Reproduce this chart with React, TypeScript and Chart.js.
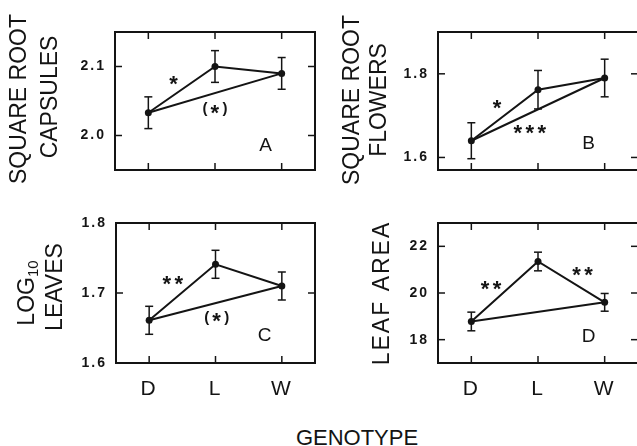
import React, { useEffect, useRef } from 'react';
import { Chart, registerables } from 'chart.js';

Chart.register(...registerables);

// ---------- data ----------
const genotypes = ['D', 'L', 'W'];
const genotypePositions = [0, 1, 2];

const capsulesMean = [2.033, 2.1, 2.09];
const capsulesErr = [0.023, 0.023, 0.023];
const capsulesTicks = [2.0, 2.1];

const flowersMean = [1.64, 1.762, 1.79];
const flowersErr = [0.043, 0.046, 0.045];
const flowersTicks = [1.6, 1.8];

const leavesMean = [1.661, 1.741, 1.71];
const leavesErr = [0.02, 0.02, 0.02];
const leavesTicks = [1.6, 1.7, 1.8];

const areaMean = [18.78, 21.35, 19.6];
const areaErr = [0.4, 0.4, 0.38];
const areaTicks = [18, 20, 22];

// significance marks (text, x in genotype units, y in data units)
const capsulesNotes = [
  { text: '*', x: 0.38, y: 2.079 },
  { text: '(*)', x: 1.0, y: 2.038 },
  { text: 'A', x: 1.76, y: 1.987 },
];
const flowersNotes = [
  { text: '*', x: 0.39, y: 1.727 },
  { text: '***', x: 0.88, y: 1.666 },
  { text: 'B', x: 1.76, y: 1.636 },
];
const leavesNotes = [
  { text: '**', x: 0.36, y: 1.718 },
  { text: '(*)', x: 1.02, y: 1.665 },
  { text: 'C', x: 1.74, y: 1.641 },
];
const areaNotes = [
  { text: '**', x: 0.3, y: 20.32 },
  { text: '**', x: 1.67, y: 20.94 },
  { text: 'D', x: 1.76, y: 18.19 },
];

const xLabel = 'GENOTYPE';

// ---------- styling / layout ----------
const INK = '#141414';
const FAMILY = '"Liberation Sans", Arial, Helvetica, sans-serif';

type Note = { text: string; x: number; y: number };
type Title = { text: string; sub?: string; x: number; y: number; spacing?: number };
type Panel = {
  mean: number[];
  err: number[];
  ticks: number[];
  min: number;
  max: number;
  decimals: number;
  notes: Note[];
  titles: Title[];
  box: { left: number; top: number; width: number; height: number };
  area: { left: number; top: number; right: number; bottom: number };
  showX: boolean;
};

const panels: Panel[] = [
  {
    mean: capsulesMean, err: capsulesErr, ticks: capsulesTicks, min: 1.95, max: 2.15, decimals: 1,
    notes: capsulesNotes,
    titles: [
      { text: 'SQUARE ROOT', x: 20, y: 99 },
      { text: 'CAPSULES', x: 48, y: 97 },
    ],
    box: { left: 0, top: 0, width: 319, height: 200 },
    area: { left: 115, top: 32, right: 316, bottom: 170 },
    showX: false,
  },
  {
    mean: flowersMean, err: flowersErr, ticks: flowersTicks, min: 1.57, max: 1.9, decimals: 1,
    notes: flowersNotes,
    titles: [
      { text: 'SQUARE ROOT', x: 32.5, y: 100 },
      { text: 'FLOWERS', x: 57.5, y: 100 },
    ],
    box: { left: 320, top: 0, width: 322, height: 200 },
    area: { left: 118, top: 32, right: 318, bottom: 170 },
    showX: false,
  },
  {
    mean: leavesMean, err: leavesErr, ticks: leavesTicks, min: 1.6, max: 1.8, decimals: 1,
    notes: leavesNotes,
    titles: [
      { text: 'LOG', sub: '10', x: 25, y: 93 },
      { text: 'LEAVES', x: 53, y: 87 },
    ],
    box: { left: 0, top: 200, width: 319, height: 210 },
    area: { left: 116, top: 23, right: 315, bottom: 163 },
    showX: true,
  },
  {
    mean: areaMean, err: areaErr, ticks: areaTicks, min: 17, max: 23, decimals: 0,
    notes: areaNotes,
    titles: [{ text: 'LEAF AREA', x: 60, y: 94, spacing: 2 }],
    box: { left: 320, top: 200, width: 322, height: 210 },
    area: { left: 118, top: 23, right: 318, bottom: 163 },
    showX: true,
  },
];

function drawCentered(
  ctx: CanvasRenderingContext2D, text: string, cx: number, cy: number,
  font: string, rotate = false, spacing = 0
) {
  ctx.save();
  ctx.font = font;
  (ctx as any).letterSpacing = spacing + 'px';
  ctx.fillStyle = INK;
  ctx.textAlign = 'center';
  ctx.textBaseline = 'alphabetic';
  const m = ctx.measureText(text);
  const off = (m.actualBoundingBoxAscent - m.actualBoundingBoxDescent) / 2;
  ctx.translate(cx, cy);
  if (rotate) ctx.rotate(-Math.PI / 2);
  ctx.fillText(text, spacing / 2, off);
  ctx.restore();
}

// significance marks: big asterisks, smaller parentheses, each glyph centred vertically
function drawMarks(ctx: CanvasRenderingContext2D, text: string, cx: number, cy: number) {
  const starFont = `bold 22px ${FAMILY}`;
  const parenFont = `bold 15px ${FAMILY}`;
  const gap = 3;
  ctx.save();
  (ctx as any).letterSpacing = '0px';
  ctx.fillStyle = INK;
  ctx.textAlign = 'left';
  ctx.textBaseline = 'alphabetic';
  const chars = text.split('');
  const items = chars.map((c) => {
    ctx.font = c === '*' ? starFont : parenFont;
    const m = ctx.measureText(c);
    const w = m.actualBoundingBoxLeft + m.actualBoundingBoxRight;
    return { c, font: ctx.font, m, w };
  });
  const total = items.reduce((s, it) => s + it.w, 0) + gap * (items.length - 1);
  let xx = cx - total / 2;
  items.forEach((it) => {
    ctx.font = it.c === '*' ? starFont : parenFont;
    const off = (it.m.actualBoundingBoxAscent - it.m.actualBoundingBoxDescent) / 2;
    ctx.fillText(it.c, xx + it.m.actualBoundingBoxLeft, cy + off);
    xx += it.w + gap;
  });
  ctx.restore();
}

function drawSubTitle(ctx: CanvasRenderingContext2D, t: Title) {
  ctx.save();
  ctx.fillStyle = INK;
  ctx.textBaseline = 'alphabetic';
  ctx.textAlign = 'left';
  (ctx as any).letterSpacing = '0px';
  const mainFont = `23px ${FAMILY}`;
  const subFont = `15px ${FAMILY}`;
  ctx.font = mainFont;
  const m1 = ctx.measureText(t.text);
  const cap = m1.actualBoundingBoxAscent;
  ctx.font = subFont;
  const m2 = ctx.measureText(t.sub || '');
  const total = m1.width + m2.width;
  ctx.translate(t.x, t.y);
  ctx.rotate(-Math.PI / 2);
  ctx.font = mainFont;
  ctx.fillText(t.text, -total / 2, cap / 2);
  ctx.font = subFont;
  ctx.fillText(t.sub || '', -total / 2 + m1.width, cap / 2 + 4);
  ctx.restore();
}

function makeDecor(p: Panel) {
  return {
    id: 'decor',
    beforeDraw(chart: any) {
      chart.ctx.letterSpacing = '2px';
    },
    beforeDatasetsDraw(chart: any) {
      const ctx: CanvasRenderingContext2D = chart.ctx;
      const a = chart.chartArea;
      const x = chart.scales.x;
      const y = chart.scales.y;
      const seg = (x1: number, y1: number, x2: number, y2: number) => {
        ctx.beginPath();
        ctx.moveTo(x1, y1);
        ctx.lineTo(x2, y2);
        ctx.stroke();
      };
      ctx.save();
      ctx.strokeStyle = INK;
      ctx.lineWidth = 2;
      ctx.strokeRect(a.left, a.top, a.right - a.left, a.bottom - a.top);
      ctx.lineWidth = 1.5;
      const tl = 7;
      x.ticks.forEach((t: any) => {
        const px = x.getPixelForValue(t.value);
        seg(px, a.top, px, a.top + tl);
        seg(px, a.bottom, px, a.bottom - tl);
      });
      y.ticks.forEach((t: any) => {
        const py = y.getPixelForValue(t.value);
        seg(a.left, py, a.left + tl, py);
        seg(a.right, py, a.right - tl, py);
      });
      // error bars
      p.mean.forEach((m, i) => {
        const px = x.getPixelForValue(genotypePositions[i]);
        const top = y.getPixelForValue(m + p.err[i]);
        const bot = y.getPixelForValue(m - p.err[i]);
        seg(px, top, px, bot);
        seg(px - 4, top, px + 4, top);
        seg(px - 4, bot, px + 4, bot);
      });
      ctx.restore();
    },
    afterDraw(chart: any) {
      const ctx: CanvasRenderingContext2D = chart.ctx;
      ctx.letterSpacing = '0px';
      const x = chart.scales.x;
      const y = chart.scales.y;
      p.notes.forEach((n) => {
        const px = x.getPixelForValue(n.x);
        const py = y.getPixelForValue(n.y);
        const isLetter = /^[A-Z]$/.test(n.text);
        if (isLetter) drawCentered(ctx, n.text, px, py, `19px ${FAMILY}`);
        else drawMarks(ctx, n.text, px, py);
      });
      p.titles.forEach((t) => {
        if (t.sub) drawSubTitle(ctx, t);
        else drawCentered(ctx, t.text, t.x, t.y, `23px ${FAMILY}`, true, t.spacing || 0);
      });
    },
  };
}

function PanelChart({ p }: { p: Panel }) {
  const ref = useRef<HTMLCanvasElement | null>(null);
  useEffect(() => {
    if (!ref.current) return;
    const lineData = genotypePositions.map((gx, i) => ({ x: gx, y: p.mean[i] }));
    const directData = [
      { x: genotypePositions[0], y: p.mean[0] },
      { x: genotypePositions[2], y: p.mean[2] },
    ];
    const chart = new Chart(ref.current, {
      type: 'line',
      data: {
        datasets: [
          {
            data: lineData,
            borderColor: INK,
            borderWidth: 2,
            pointRadius: 3.5,
            pointBackgroundColor: INK,
            pointBorderWidth: 0,
            tension: 0,
          },
          {
            data: directData,
            borderColor: INK,
            borderWidth: 2,
            pointRadius: 0,
            tension: 0,
          },
        ],
      },
      options: {
        animation: false,
        responsive: false,
        maintainAspectRatio: false,
        devicePixelRatio: 1,
        events: [],
        layout: {
          padding: { left: 0, top: p.area.top, right: p.box.width - p.area.right, bottom: 0 },
        },
        plugins: { legend: { display: false }, tooltip: { enabled: false }, title: { display: false } },
        scales: {
          x: {
            type: 'linear',
            min: -0.5,
            max: 2.5,
            afterBuildTicks: (s: any) => {
              s.ticks = genotypePositions.map((v) => ({ value: v }));
            },
            afterFit: (s: any) => {
              s.height = p.box.height - p.area.bottom;
            },
            grid: { display: false, drawTicks: false },
            border: { display: false },
            ticks: {
              display: p.showX,
              autoSkip: false,
              maxRotation: 0,
              color: INK,
              padding: 14,
              font: { family: FAMILY, size: 21 },
              callback: (v: any) => genotypes[genotypePositions.indexOf(Number(v))] ?? '',
            },
          },
          y: {
            type: 'linear',
            min: p.min,
            max: p.max,
            afterBuildTicks: (s: any) => {
              s.ticks = p.ticks.map((v) => ({ value: v }));
            },
            afterFit: (s: any) => {
              s.width = p.area.left;
            },
            grid: { display: false, drawTicks: false },
            border: { display: false },
            ticks: {
              color: INK,
              padding: 9,
              font: { family: FAMILY, size: 14, weight: 'bold' },
              callback: (v: any) => Number(v).toFixed(p.decimals),
            },
          },
        },
      } as any,
      plugins: [makeDecor(p)],
    });
    return () => chart.destroy();
  }, [p]);
  return (
    <canvas
      ref={ref}
      width={p.box.width}
      height={p.box.height}
      style={{
        position: 'absolute',
        left: p.box.left,
        top: p.box.top,
        width: p.box.width,
        height: p.box.height,
      }}
    />
  );
}

export default function App() {
  return (
    <div
      style={{
        position: 'fixed',
        left: 0,
        top: 0,
        width: 637,
        height: 446,
        overflow: 'hidden',
        background: '#ffffff',
      }}
    >
      {panels.map((p, i) => (
        <PanelChart key={i} p={p} />
      ))}
      <div
        style={{
          position: 'absolute',
          left: 257,
          width: 200,
          top: 427,
          textAlign: 'center',
          font: `22px ${FAMILY}`,
          lineHeight: '22px',
          color: INK,
        }}
      >
        {xLabel}
      </div>
    </div>
  );
}
